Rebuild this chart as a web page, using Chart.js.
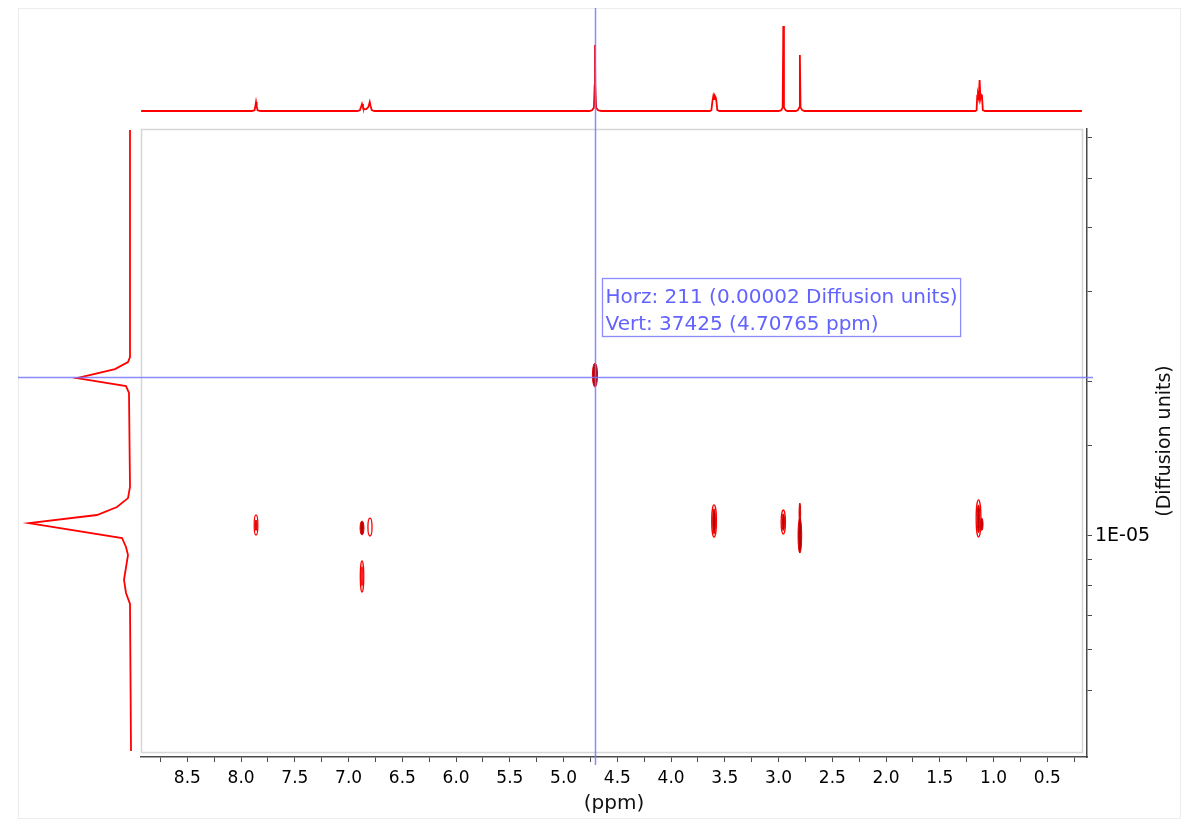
<!DOCTYPE html>
<html>
<head>
<meta charset="utf-8">
<script src="https://cdn.jsdelivr.net/npm/chart.js@4.4.1/dist/chart.umd.min.js"></script>
<style>
  html, body { margin: 0; padding: 0; background: #fff; }
  #wrap { position: relative; width: 1192px; height: 821px; overflow: hidden; }
  #frame { position: absolute; left: 18px; top: 8px; width: 1163px; height: 811px;
           border: 1px solid #ececec; box-sizing: border-box; }
  canvas { position: absolute; left: 0; top: 0; }
</style>
</head>
<body>
<div id="wrap">
  <div id="frame"></div>
  <canvas id="topSpec" width="1192" height="128"></canvas>
  <canvas id="leftProj" width="141" height="821"></canvas>
  <canvas id="dosy" width="1192" height="821"></canvas>
</div>
<script>
// axis ranges: chemical shift (reversed) and diffusion (log)
const ppmLow = 0.131;
const ppmHigh = 8.931;
const diffLow = 3.70e-6;
const diffHigh = 6.24e-5;

// 1H projection on top
const specPpm = [8.93, 7.90, 7.875, 7.867, 7.861, 7.855, 7.847, 7.82,
  6.92, 6.895, 6.882, 6.875, 6.866, 6.85, 6.835, 6.815, 6.803, 6.795, 6.785, 6.76,
  4.76, 4.735, 4.718, 4.711, 4.708, 4.705, 4.697, 4.68, 4.65,
  3.64, 3.625, 3.615, 3.607, 3.600, 3.592, 3.585, 3.578, 3.57, 3.55,
  3.00, 2.975, 2.962, 2.956, 2.950, 2.935, 2.92,
  2.84, 2.82, 2.808, 2.802, 2.796, 2.78, 2.76,
  1.17, 1.158, 1.152, 1.145, 1.138, 1.13, 1.122, 1.115, 1.108, 1.10, 1.08, 0.178];
const specInt = [0, 0, 0.8, 6, 10.6, 6, 0.8, 0,
  0, 0.8, 5.5, 8.2, 4, 2, 2.2, 5, 10.6, 6, 1, 0,
  0, 0.8, 4, 30, 77.6, 30, 4, 0.8, 0,
  0, 1, 12, 17.6, 14, 17.6, 16, 11, 1, 0,
  0, 1, 4, 100, 4, 1, 0,
  0, 1, 4, 65.9, 4, 1, 0,
  0, 1, 18, 19, 15, 36.5, 15, 19, 18, 1, 0, 0];

// diffusion projection on the left
const projDiff = [6.21e-5, 2.237e-5, 2.187e-5, 2.119e-5, 2.035e-5, 1.963e-5, 1.903e-5,
  1.247e-5, 1.186e-5, 1.139e-5, 1.099e-5, 1.060e-5, 0.991e-5, 0.952e-5, 0.918e-5,
  0.821e-5, 0.774e-5, 0.737e-5, 0.380e-5];
const projInt = [0, 0, 2, 15, 53, 4, 1,
  0, 2, 13, 33, 101, 8, 4, 2,
  6, 4, 0, -1];

// DOSY contours: centre shift, diffusion span, half width in ppm, filled level
const contourPpm = [7.861, 7.861, 6.875, 6.801, 6.875, 6.875, 4.708, 3.60, 3.60,
  2.956, 2.956, 2.802, 2.802, 1.14, 1.14, 1.11];
const contourDiffHi = [1.099e-5, 1.075e-5, 1.070e-5, 1.084e-5, 0.894e-5, 0.870e-5, 2.177e-5,
  1.150e-5, 1.13e-5, 1.124e-5, 1.105e-5, 1.160e-5, 1.084e-5, 1.176e-5, 1.15e-5, 1.084e-5];
const contourDiffLo = [1.0045e-5, 1.025e-5, 1.0045e-5, 1.000e-5, 0.777e-5, 0.800e-5, 1.954e-5,
  0.9955e-5, 1.01e-5, 1.009e-5, 1.025e-5, 1.060e-5, 0.926e-5, 0.9955e-5, 1.015e-5, 1.025e-5];
const contourHalfWidth = [0.017, 0.008, 0.018, 0.019, 0.016, 0.006, 0.024, 0.022, 0.013,
  0.02, 0.012, 0.007, 0.017, 0.022, 0.012, 0.012];
const contourFilled = [0, 1, 1, 0, 0, 0, 1, 0, 1, 0, 1, 1, 1, 0, 1, 1];

// cursor read-out
const cursorPpm = 4.70765;
const cursorDiff = 2.045e-5;
const cursorText = ["Horz: 211 (0.00002 Diffusion units)", "Vert: 37425 (4.70765 ppm)"];

const FONT = "'DejaVu Sans', Verdana, sans-serif";
const RED = "#ff0000";
const CURSOR = "rgba(120, 120, 255, 0.85)";

function toPoints(xs, ys) {
  return xs.map((x, i) => ({ x: x, y: ys[i] }));
}

// top 1D spectrum
new Chart(document.getElementById("topSpec"), {
  type: "scatter",
  data: {
    datasets: [{
      data: toPoints(specPpm, specInt),
      showLine: true,
      borderColor: RED,
      borderWidth: 1.8,
      pointRadius: 0,
      tension: 0,
    }],
  },
  options: {
    responsive: false,
    animation: false,
    layout: { padding: { left: 141, right: 105, top: 15, bottom: 8 } },
    plugins: { legend: { display: false }, tooltip: { enabled: false } },
    scales: {
      x: { type: "linear", reverse: true, min: ppmLow, max: ppmHigh, display: false },
      y: { type: "linear", min: -10.6, max: 112.9, display: false },
    },
  },
});

// left diffusion projection
new Chart(document.getElementById("leftProj"), {
  type: "scatter",
  data: {
    datasets: [{
      data: toPoints(projInt, projDiff),
      showLine: true,
      borderColor: RED,
      borderWidth: 1.8,
      pointRadius: 0,
      tension: 0,
    }],
  },
  options: {
    responsive: false,
    animation: false,
    layout: { padding: { left: 20, right: 1, top: 129, bottom: 64 } },
    plugins: { legend: { display: false }, tooltip: { enabled: false } },
    scales: {
      x: { type: "linear", reverse: true, min: -10, max: 110, display: false },
      y: { type: "logarithmic", min: diffLow, max: diffHigh, display: false },
    },
  },
});

// contours + plot frame + cursor
const dosyPlugin = {
  id: "dosyDraw",
  beforeDatasetsDraw(chart) {
    const { ctx, chartArea } = chart;
    ctx.save();
    ctx.strokeStyle = "#d6d6d6";
    ctx.lineWidth = 1.5;
    ctx.strokeRect(chartArea.left + 0.5, chartArea.top + 0.5,
      chartArea.right - chartArea.left - 5, chartArea.bottom - chartArea.top - 5);
    ctx.restore();
  },
  afterDatasetsDraw(chart) {
    const { ctx } = chart;
    const xs = chart.scales.x;
    const ys = chart.scales.y;
    ctx.save();
    contourPpm.forEach((ppm, i) => {
      const cx = xs.getPixelForValue(ppm);
      const rx = Math.abs(xs.getPixelForValue(ppm + contourHalfWidth[i]) - cx);
      const y1 = ys.getPixelForValue(contourDiffHi[i]);
      const y2 = ys.getPixelForValue(contourDiffLo[i]);
      ctx.beginPath();
      ctx.ellipse(cx, (y1 + y2) / 2, Math.max(rx, 0.8), (y2 - y1) / 2, 0, 0, Math.PI * 2);
      if (contourFilled[i]) {
        ctx.fillStyle = "#b80000";
        ctx.fill();
        ctx.strokeStyle = "#e00000";
        ctx.lineWidth = 1;
      } else {
        ctx.strokeStyle = RED;
        ctx.lineWidth = 1.3;
      }
      ctx.stroke();
    });
    ctx.restore();
  },
  afterDraw(chart) {
    const { ctx } = chart;
    const xs = chart.scales.x;
    const ys = chart.scales.y;
    const cx = Math.round(xs.getPixelForValue(cursorPpm)) + 0.5;
    const cy = Math.round(ys.getPixelForValue(cursorDiff)) + 0.5;
    ctx.save();
    // cursor lines
    ctx.strokeStyle = CURSOR;
    ctx.lineWidth = 1.5;
    ctx.beginPath();
    ctx.moveTo(cx, 8);
    ctx.lineTo(cx, ys.bottom + 8);
    ctx.moveTo(18, cy);
    ctx.lineTo(ys.left + 6, cy);
    ctx.stroke();

    // read-out box
    ctx.font = "20px " + FONT;
    const w = Math.max(...cursorText.map((t) => ctx.measureText(t).width)) + 6;
    const bx = cx + 7, by = cy - 99;
    ctx.lineWidth = 1.3;
    ctx.strokeRect(bx, by, w, 58);
    ctx.fillStyle = "#6262ff";
    ctx.textBaseline = "alphabetic";
    ctx.fillText(cursorText[0], bx + 3, by + 24);
    ctx.fillText(cursorText[1], bx + 3, by + 51);

    // diffusion axis title, reading upwards
    ctx.fillStyle = "#111";
    ctx.font = "19px " + FONT;
    ctx.textAlign = "center";
    ctx.textBaseline = "middle";
    ctx.translate(ys.right - 27, (ys.top + ys.bottom) / 2 - 2);
    ctx.rotate(-Math.PI / 2);
    ctx.fillText("(Diffusion units)", 0, 0);
    ctx.restore();
  },
};

new Chart(document.getElementById("dosy"), {
  type: "scatter",
  data: { datasets: [] },
  options: {
    responsive: false,
    animation: false,
    layout: { padding: { left: 141, right: 0, top: 129, bottom: 0 } },
    plugins: { legend: { display: false }, tooltip: { enabled: false } },
    scales: {
      x: {
        type: "linear",
        position: "bottom",
        reverse: true,
        min: ppmLow,
        max: ppmHigh,
        border: { color: "#4a4a4a", width: 1.5 },
        grid: { drawOnChartArea: false, drawTicks: true, tickLength: 5, tickColor: "#4a4a4a", tickWidth: 1 },
        ticks: {
          stepSize: 0.25,
          includeBounds: false,
          autoSkip: false,
          maxRotation: 0,
          padding: 6,
          color: "#000",
          font: { family: FONT, size: 17 },
          callback: (v) => (Math.abs(v * 2 - Math.round(v * 2)) < 1e-6 ? v.toFixed(1) : ""),
        },
        title: {
          display: true,
          text: "(ppm)",
          color: "#111",
          padding: { top: 0, bottom: 5 },
          font: { family: FONT, size: 20 },
        },
        afterFit: (s) => { s.height = 64; },
      },
      y: {
        type: "logarithmic",
        position: "right",
        min: diffLow,
        max: diffHigh,
        border: { color: "#4a4a4a", width: 1.5 },
        grid: { drawOnChartArea: false, drawTicks: true, tickLength: 5, tickColor: "#4a4a4a", tickWidth: 1 },
        afterBuildTicks: (s) => {
          s.ticks = s.ticks.filter((t) => t.value > diffLow * 1.02 && t.value < diffHigh * 0.98);
        },
        ticks: {
          autoSkip: false,
          padding: 3,
          color: "#000",
          font: { family: FONT, size: 19 },
          callback: (v) => (Math.abs(v / 1e-5 - 1) < 1e-6 ? "1E-05" : ""),
        },
        afterFit: (s) => { s.width = 105; },
      },
    },
  },
  plugins: [dosyPlugin],
});
</script>
</body>
</html>
